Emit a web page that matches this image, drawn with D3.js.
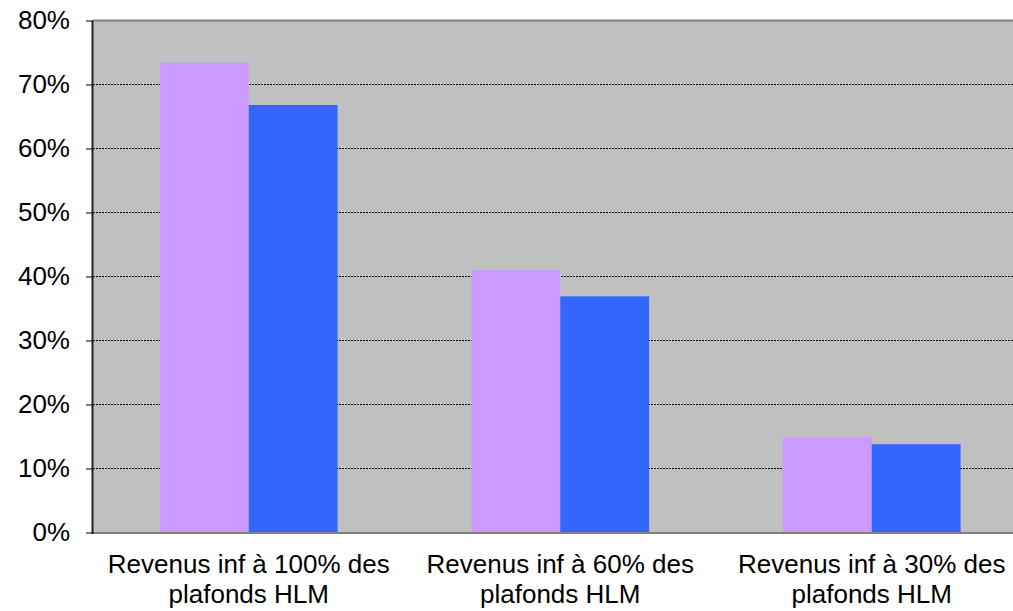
<!DOCTYPE html>
<html><head><meta charset="utf-8">
<script src="https://cdn.jsdelivr.net/npm/d3@7"></script>
<style>html,body{margin:0;padding:0;background:#fff;overflow:hidden}</style>
</head><body><svg id="c" width="1013" height="611"></svg>
<script>
const categories = [["Revenus inf à 100% des","plafonds HLM"],["Revenus inf à 60% des","plafonds HLM"],["Revenus inf à 30% des","plafonds HLM"]];
const seriesNames = ["Série 1","Série 2"];
const series1 = [73.4, 41.0, 14.9];
const series2 = [66.8, 36.9, 13.8];
const yTicks = [0,10,20,30,40,50,60,70,80];
const colors = ["#CC99FF","#3366FF"];

const svg = d3.select("#c");
const L = 93, R = 1027.5, T = 20.5, B = 532.5;
const x = d3.scaleBand().domain(d3.range(categories.length)).range([L,R]).padding(0);
const xs = d3.scaleBand().domain(d3.range(seriesNames.length)).range([0,x.bandwidth()]).paddingInner(0).paddingOuter(0.753);
const y = d3.scaleLinear().domain([0,80]).range([B,T]);

svg.append("rect").attr("x",L).attr("y",T).attr("width",R-L).attr("height",B-T).attr("fill","#C0C0C0");

// gridlines
svg.append("g").selectAll("line").data(yTicks.filter(d=>d>0&&d<80)).join("line")
  .attr("x1",L).attr("x2",R).attr("y1",d=>y(d)).attr("y2",d=>y(d))
  .attr("stroke","#000").attr("stroke-width",1).attr("stroke-dasharray","2,1");

// border top/bottom
svg.append("line").attr("x1",L).attr("x2",R).attr("y1",T).attr("y2",T).attr("stroke","#808080").attr("stroke-width",2);

const data = [series1, series2];
data.forEach((s,si)=>{
  svg.append("g").selectAll("rect").data(s).join("rect")
    .attr("x",(d,i)=>x(i)+xs(si)).attr("width",xs.bandwidth())
    .attr("y",d=>y(d)).attr("height",d=>B-y(d)).attr("fill",colors[si]);
});

svg.append("line").attr("x1",L).attr("x2",R).attr("y1",B+0.5).attr("y2",B+0.5).attr("stroke","#808080").attr("stroke-width",2);

// y axis
const ya = d3.axisLeft(y).tickValues(yTicks).tickFormat(d=>d+"%").tickSize(7).tickPadding(16);
const gy = svg.append("g").attr("transform",`translate(${L},0)`).call(ya);
gy.select(".domain").attr("stroke","#222").attr("stroke-width",2).attr("d",`M-0.5,${T}V${B+1.5}`);
gy.selectAll(".tick line").attr("stroke","#000");
gy.selectAll("text").attr("font-family","Liberation Sans, Arial, sans-serif").attr("font-size",26).attr("fill","#000");

// category labels
const gx = svg.append("g");
categories.forEach((c,i)=>{
  const t = gx.append("text").attr("x",x(i)+x.bandwidth()/2).attr("text-anchor","middle")
    .attr("font-family","Liberation Sans, Arial, sans-serif").attr("font-size",26).attr("fill","#000");
  c.forEach((line,li)=>t.append("tspan").attr("x",x(i)+x.bandwidth()/2).attr("y",573+li*30).text(line));
});
</script></body></html>
